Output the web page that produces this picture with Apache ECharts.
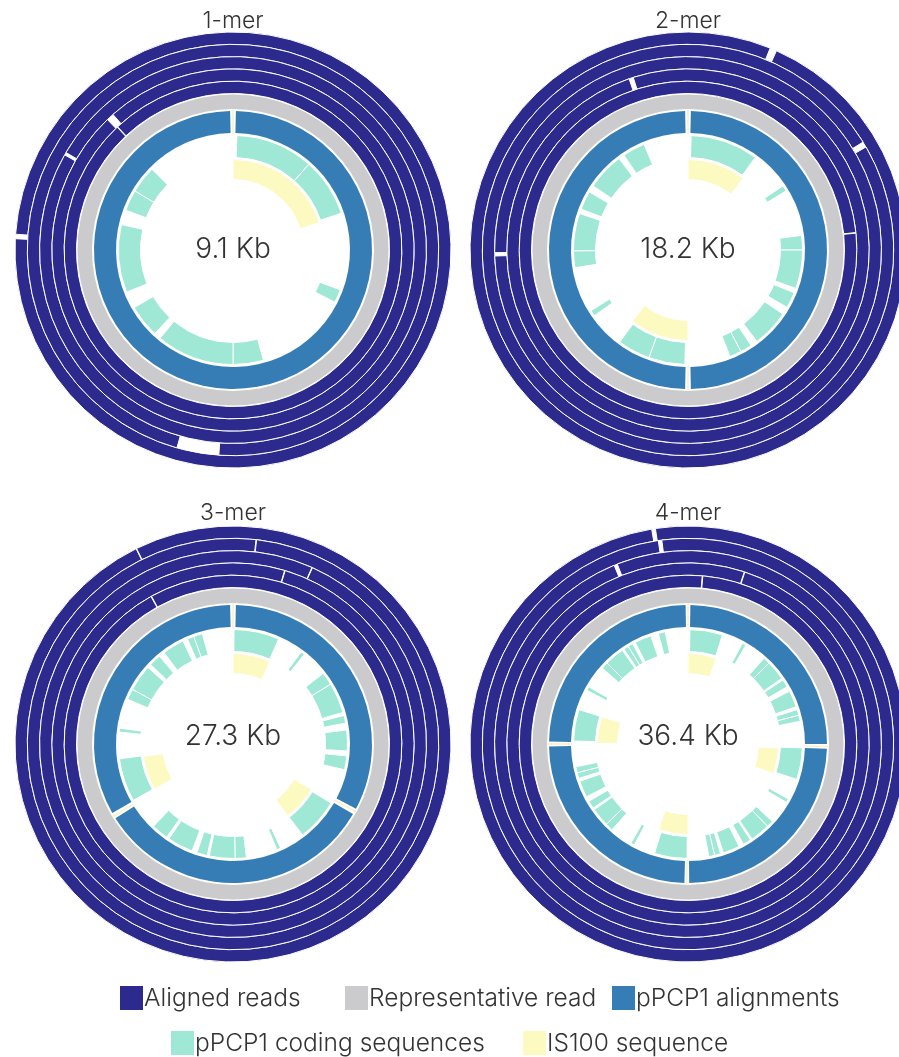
<!DOCTYPE html>
<html>
<head>
<meta charset="utf-8">
<script src="https://cdn.jsdelivr.net/npm/echarts@6/dist/echarts.min.js"></script>
<style>
  html, body { margin: 0; padding: 0; background: #ffffff; }
  #chart { width: 899px; height: 1057px; }
</style>
</head>
<body>
<div id="chart"></div>
<script>
// ---- Plasmid multimers (pPCP1 concatemers) ----
const titles = ['1-mer', '2-mer', '3-mer', '4-mer'];
const lengthsKb = [9.1, 18.2, 27.3, 36.4];
const centerLabels = ['9.1 Kb', '18.2 Kb', '27.3 Kb', '36.4 Kb'];
const legendNames = ['Aligned reads', 'Representative read', 'pPCP1 alignments',
                     'pPCP1 coding sequences', 'IS100 sequence'];

// Aligned reads: [ring (1 = outermost), start kb, end kb].
// end < start wraps through the origin; end == start covers the whole molecule.
const reads1mer = [[1, 6.93, 6.90], [2, 4.95, 4.65], [3, 7.59, 7.57], [4, 8.05, 7.99], [5, 8.01, 8.01]];
const reads2mer = [[1, 1.21, 1.12], [2, 3.03, 2.95], [3, 13.61, 13.56], [4, 17.31, 17.24], [5, 4.26, 4.26]];
const reads3mer = [[1, 25.31, 25.31], [2, 0.50, 0.50], [3, 1.84, 1.84], [4, 1.27, 1.27], [5, 25.11, 25.11]];
const reads4mer = [[1, 35.53, 35.43], [2, 35.66, 35.56], [3, 34.23, 34.13], [4, 1.85, 1.85], [5, 0.51, 0.51]];

// pPCP1 alignments on the representative read: [start kb, end kb]
const align1mer = [[0.03, 9.07]];
const align2mer = [[0.06, 9.04], [9.16, 18.14]];
const align3mer = [[0.09, 8.93], [9.12, 18.03], [18.22, 27.21]];
const align4mer = [[0.10, 9.10], [9.30, 18.15], [18.35, 27.20], [27.40, 36.30]];

// Junctions between consecutive pPCP1 copies (kb)
const junctions1mer = [0];
const junctions2mer = [0, 9.10];
const junctions3mer = [0, 9.02, 18.12];
const junctions4mer = [0, 9.20, 18.25, 27.30];

// pPCP1 coding sequences: [start kb, end kb]
const cds1mer = [[0.05, 1.05], [1.05, 1.80], [2.79, 2.96], [4.16, 4.55], [4.55, 5.55],
                 [5.64, 6.06], [6.28, 7.15], [7.34, 7.61], [7.61, 7.96]];
const cds2mer = [[0.08, 1.82], [2.83, 2.98], [4.18, 4.55], [4.55, 5.54], [5.66, 6.07],
                 [6.27, 7.23], [7.41, 7.71], [7.71, 8.01],
                 [9.18, 10.11], [10.11, 10.95], [11.88, 12.03], [13.20, 13.63], [13.63, 14.59],
                 [14.71, 15.19], [15.37, 16.33], [16.48, 17.06]];
const cds3mer = [[0.04, 1.78], [2.77, 2.92], [3.94, 4.44], [4.44, 5.61], [5.73, 6.03],
                 [6.29, 7.09], [7.28, 7.81],
                 [9.18, 10.81], [11.79, 11.94], [13.14, 13.57], [13.57, 14.56], [14.64, 15.04],
                 [15.24, 16.23], [16.34, 16.99],
                 [18.24, 19.91], [20.93, 21.08], [22.22, 22.64], [22.64, 23.66], [23.81, 24.27],
                 [24.49, 25.33], [25.52, 25.78], [25.78, 26.12]];
const cds4mer = [[0.10, 1.77], [2.87, 3.07], [4.20, 4.55], [4.55, 5.56], [5.66, 6.07],
                 [6.32, 7.18], [7.33, 7.63], [7.63, 7.94],
                 [9.30, 10.92], [12.00, 12.20], [13.40, 13.75], [13.75, 14.76], [14.86, 15.27],
                 [15.52, 16.38], [16.53, 16.84], [16.84, 17.14],
                 [18.25, 19.92], [21.03, 21.23], [22.40, 22.80], [22.80, 23.76], [23.86, 24.27],
                 [24.52, 25.38], [25.53, 25.83], [25.83, 26.14],
                 [27.45, 29.07], [30.13, 30.33], [31.50, 31.85], [31.85, 32.86], [32.96, 33.22],
                 [33.22, 33.47], [33.62, 34.48], [34.88, 35.24]];

// IS100 insertion sequence: [start kb, end kb]
const is100_1mer = [[0, 1.83]];
const is100_2mer = [[0, 1.90], [9.10, 11.02]];
const is100_3mer = [[0, 1.82], [9.10, 10.81], [18.20, 19.87]];
const is100_4mer = [[0, 1.82], [9.35, 11.02], [18.20, 20.12], [27.35, 29.07]];

// ---- Layout and styling ----
const COLORS = {
  reads: '#2d2a8e', rep: '#cbcacc', align: '#367db6', cds: '#9ee8d5', is100: '#fcfac0',
  junction: '#f6f3c8', text: '#333333'
};
const CENTERS = [[233, 250], [688, 250], [233, 744], [688, 744]];
const OUTER_RADIUS = 218;               // radius axis is laid out in pixels
const TRACKS = { is100: [70.5, 90.5], cds: [92.5, 114.5], align: [117, 139], rep: [141, 155.5] };
const READ_STEP = 12.3;
const FONT = 'Inter, Roboto, "Liberation Sans", Arial, sans-serif';

function readRing(ring) {
  const outer = OUTER_RADIUS - (ring - 1) * READ_STEP;
  return [outer - READ_STEP, outer];
}

function radiusOf(pt, cs) { return Math.hypot(pt[0] - cs.cx, pt[1] - cs.cy); }

// Arc on a track; data items are [ring, start, end]
function arcRenderer(trackFor, fill, stroke, lineWidth) {
  return function (params, api) {
    const cs = params.coordSys;
    const track = trackFor(api.value(0));
    const s = api.value(1), e = api.value(2);
    const pOut = api.coord([track[1], s]);
    const pIn = api.coord([track[0], s]);
    const pEnd = api.coord([track[1], e]);
    const rOut = radiusOf(pOut, cs);
    const a0 = Math.atan2(pOut[1] - cs.cy, pOut[0] - cs.cx);
    let span = Math.atan2(pEnd[1] - cs.cy, pEnd[0] - cs.cx) - a0;
    while (span <= 1e-6) span += 2 * Math.PI;
    // a read whose two ends meet keeps a hairline seam where they join
    if (stroke && span > 2 * Math.PI - 1e-4) span = 2 * Math.PI - 0.6 / rOut;
    return {
      type: 'sector',
      shape: { cx: cs.cx, cy: cs.cy, r0: radiusOf(pIn, cs), r: rOut,
               startAngle: a0, endAngle: a0 + span, clockwise: true },
      style: { fill: fill, stroke: stroke, lineWidth: lineWidth }
    };
  };
}

function junctionRenderer(params, api) {
  const pos = api.value(1);
  const a = api.coord([TRACKS.align[0] - 1, pos]);
  const b = api.coord([TRACKS.align[1] + 1.5, pos]);
  return {
    type: 'line',
    shape: { x1: a[0], y1: a[1], x2: b[0], y2: b[1] },
    style: { stroke: COLORS.junction, lineWidth: 1.6 }
  };
}

const plots = [
  { reads: reads1mer, align: align1mer, junctions: junctions1mer, cds: cds1mer, is100: is100_1mer },
  { reads: reads2mer, align: align2mer, junctions: junctions2mer, cds: cds2mer, is100: is100_2mer },
  { reads: reads3mer, align: align3mer, junctions: junctions3mer, cds: cds3mer, is100: is100_3mer },
  { reads: reads4mer, align: align4mer, junctions: junctions4mer, cds: cds4mer, is100: is100_4mer }
];

const series = [];
plots.forEach(function (p, i) {
  const base = { type: 'custom', coordinateSystem: 'polar', polarIndex: i, silent: true, animation: false };
  const withRing = function (list) { return list.map(function (d) { return [0, d[0], d[1]]; }); };
  series.push(Object.assign({}, base, {
    name: legendNames[0], data: p.reads, itemStyle: { color: COLORS.reads },
    renderItem: arcRenderer(readRing, COLORS.reads, '#ffffff', 1)
  }));
  series.push(Object.assign({}, base, {
    name: legendNames[1], data: [[0, 0, lengthsKb[i]]], itemStyle: { color: COLORS.rep },
    renderItem: arcRenderer(function () { return TRACKS.rep; }, COLORS.rep, null, 0)
  }));
  series.push(Object.assign({}, base, {
    name: legendNames[2], data: withRing(p.align), itemStyle: { color: COLORS.align },
    renderItem: arcRenderer(function () { return TRACKS.align; }, COLORS.align, null, 0)
  }));
  series.push(Object.assign({}, base, {
    name: 'junctions', data: p.junctions.map(function (j) { return [0, j]; }),
    renderItem: junctionRenderer
  }));
  series.push(Object.assign({}, base, {
    name: legendNames[3], data: withRing(p.cds), itemStyle: { color: COLORS.cds },
    renderItem: arcRenderer(function () { return TRACKS.cds; }, COLORS.cds, '#ffffff', 1)
  }));
  series.push(Object.assign({}, base, {
    name: legendNames[4], data: withRing(p.is100), itemStyle: { color: COLORS.is100 },
    renderItem: arcRenderer(function () { return TRACKS.is100; }, COLORS.is100, '#ffffff', 1)
  }));
});

// Titles, centre labels and legend as text elements
const graphics = [];
titles.forEach(function (t, i) {
  const top = i < 2;
  graphics.push({
    type: 'text', x: CENTERS[i][0], y: top ? 21 : 513, silent: true,
    style: { text: t, fill: COLORS.text, font: '300 23px ' + FONT, textAlign: 'center', textVerticalAlign: 'middle' }
  });
  graphics.push({
    type: 'text', x: CENTERS[i][0], y: top ? 249.5 : 736.5, silent: true,
    style: { text: centerLabels[i], fill: COLORS.text, font: '300 28px ' + FONT, textAlign: 'center', textVerticalAlign: 'middle' }
  });
});
const legendColors = [COLORS.reads, COLORS.rep, COLORS.align, COLORS.cds, COLORS.is100];
const legendSlots = [[120, 986], [345, 986], [612, 986], [171, 1031], [523, 1031]];
legendNames.forEach(function (name, k) {
  const x = legendSlots[k][0], y = legendSlots[k][1];
  graphics.push({ type: 'rect', silent: true, shape: { x: x, y: y, width: 23, height: 24 },
                  style: { fill: legendColors[k] } });
  graphics.push({ type: 'text', silent: true, x: x + 24, y: y + 13,
                  style: { text: name, fill: COLORS.text, font: '300 24.5px ' + FONT, textVerticalAlign: 'middle' } });
});

const chart = echarts.init(document.getElementById('chart'), null, { renderer: 'canvas' });
chart.setOption({
  animation: false,
  backgroundColor: '#ffffff',
  polar: CENTERS.map(function (c) { return { center: c, radius: [0, OUTER_RADIUS] }; }),
  angleAxis: lengthsKb.map(function (len, i) {
    return { polarIndex: i, type: 'value', min: 0, max: len, startAngle: 90, clockwise: true, show: false };
  }),
  radiusAxis: lengthsKb.map(function (len, i) {
    return { polarIndex: i, type: 'value', min: 0, max: OUTER_RADIUS, show: false };
  }),
  series: series,
  graphic: graphics
});
</script>
</body>
</html>
